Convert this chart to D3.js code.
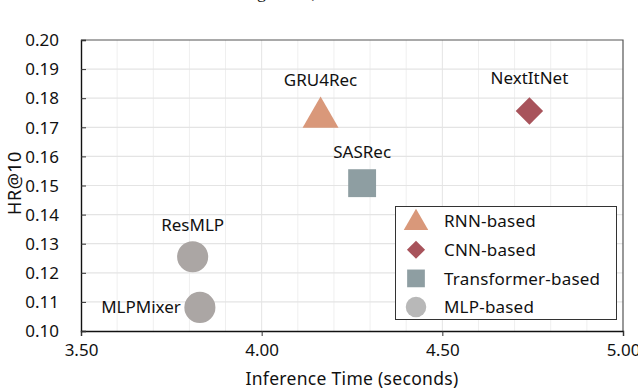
<!DOCTYPE html>
<html>
<head>
<meta charset="utf-8">
<script src="https://cdn.jsdelivr.net/npm/d3@7"></script>
<style>
  body { margin: 0; background: #fff; }
  text { font-family: "Noto Sans", sans-serif; fill: #111; }
</style>
</head>
<body>
<div id="canvas"></div>
<script>
"use strict"

/* values */
let models = ["GRU4Rec", "NextItNet", "SASRec", "ResMLP", "MLPMixer"];
let families = ["RNN-based", "CNN-based", "Transformer-based", "MLP-based", "MLP-based"];
let inferTime = [4.163, 4.741, 4.278, 3.809, 3.829];
let hr10 = [0.1748, 0.1756, 0.1508, 0.1255, 0.1081];

let legendNames = ["RNN-based", "CNN-based", "Transformer-based", "MLP-based"];
let xTicks = [3.5, 4.0, 4.5, 5.0];
let yTicks = [0.10, 0.11, 0.12, 0.13, 0.14, 0.15, 0.16, 0.17, 0.18, 0.19, 0.20];

let colours = {
    "RNN-based": "#d9987a",
    "CNN-based": "#a8535b",
    "Transformer-based": "#8e9ea2",
    "MLP-based": "#aba6a4"
};
let shapes = {
    "RNN-based": d3.symbolTriangle,
    "CNN-based": d3.symbolDiamond2,
    "Transformer-based": d3.symbolSquare2,
    "MLP-based": d3.symbolCircle
};

const W = 638, H = 390;
const pLeft = 81, pRight = 623, pTop = 40, pBottom = 331;

let drawing = d3.select("#canvas")
    .append("svg")
    .attr("width", W)
    .attr("height", H);

// caption line of the page above, only its descenders are in the crop
drawing.append("text")
    .attr("x", 242).attr("y", -1.8)
    .style("font-family", "'Liberation Serif', serif")
    .style("font-size", "18px")
    .text("Figure 10, the");

let x = d3.scaleLinear().domain([3.5, 5.0]).range([pLeft, pRight]);
let y = d3.scaleLinear().domain([0.10, 0.20]).range([pBottom, pTop]);

// grid
let grid = drawing.append("g");
grid.selectAll("line.v")
    .data(d3.range(36, 50).map(d => d / 10))
    .enter().append("line")
    .attr("x1", d => x(d)).attr("x2", d => x(d))
    .attr("y1", pTop).attr("y2", pBottom)
    .attr("stroke", d => Math.abs(d * 2 - Math.round(d * 2)) < 1e-6 ? "#e4e4e4" : "#efefef")
    .attr("stroke-width", 1);
grid.selectAll("line.h")
    .data(yTicks.slice(1, -1))
    .enter().append("line")
    .attr("x1", pLeft).attr("x2", pRight)
    .attr("y1", d => y(d)).attr("y2", d => y(d))
    .attr("stroke", "#e4e4e4")
    .attr("stroke-width", 1.2);

// frame: top and right
drawing.append("path")
    .attr("d", `M${pLeft},${pTop}H${pRight}V${pBottom}`)
    .attr("fill", "none")
    .attr("stroke", "#555")
    .attr("stroke-width", 1.2);

// axes
let xAxis = drawing.append("g")
    .attr("transform", `translate(0,${pBottom})`)
    .call(d3.axisBottom(x).tickValues(xTicks).tickFormat(d3.format(".2f")).tickSize(5).tickPadding(8));
let yAxis = drawing.append("g")
    .attr("transform", `translate(${pLeft},0)`)
    .call(d3.axisLeft(y).tickValues(yTicks).tickFormat(d3.format(".2f")).tickSize(-5).tickPadding(22));

[xAxis, yAxis].forEach(a => {
    a.select(".domain").attr("stroke", "#111").attr("stroke-width", 1.4);
    a.selectAll(".tick line").attr("stroke", "#333").attr("stroke-width", 1);
    a.selectAll(".tick text")
        .style("font-family", "'Noto Sans', sans-serif")
        .style("font-size", "17px")
        .attr("fill", "#111");
});
yAxis.selectAll(".tick text").attr("dy", "0.34em");

// axis titles
drawing.append("text")
    .attr("x", (pLeft + pRight) / 2).attr("y", 385)
    .attr("text-anchor", "middle")
    .style("font-size", "17.5px")
    .style("letter-spacing", "0.3px")
    .text("Inference Time (seconds)");
drawing.append("text")
    .attr("transform", "translate(21,183) rotate(-90)")
    .attr("text-anchor", "middle")
    .style("font-size", "18px")
    .style("letter-spacing", "0.5px")
    .text("HR@10");

// points
let symSize = { "RNN-based": 560, "CNN-based": 480, "Transformer-based": 990, "MLP-based": 760 };
drawing.selectAll("path.pt")
    .data(models)
    .enter().append("path")
    .attr("class", "pt")
    .attr("transform", (d, i) => {
        let dy = families[i] === "RNN-based" ? 4 : 0;
        return `translate(${x(inferTime[i])},${y(hr10[i]) + dy})`;
    })
    .attr("d", (d, i) => d3.symbol().type(shapes[families[i]]).size(symSize[families[i]])())
    .attr("fill", (d, i) => colours[families[i]]);

// point labels
let labelOff = {
    "GRU4Rec": [0, -27, "middle"],
    "NextItNet": [0, -27, "middle"],
    "SASRec": [0, -25, "middle"],
    "ResMLP": [0, -26, "middle"],
    "MLPMixer": [-19, 6, "end"]
};
drawing.selectAll("text.lbl")
    .data(models)
    .enter().append("text")
    .attr("class", "lbl")
    .attr("x", (d, i) => x(inferTime[i]) + labelOff[d][0])
    .attr("y", (d, i) => y(hr10[i]) + labelOff[d][1])
    .attr("text-anchor", d => labelOff[d][2])
    .style("font-size", "17px")
    .text(d => d);

// legend
let lg = drawing.append("g");
lg.append("rect")
    .attr("x", 395.5).attr("y", 206.5)
    .attr("width", 221).attr("height", 113)
    .attr("fill", "#fff")
    .attr("stroke", "#333")
    .attr("stroke-width", 1);
let legSize = { "RNN-based": 260, "CNN-based": 210, "Transformer-based": 400, "MLP-based": 330 };
let legCol = Object.assign({}, colours, { "MLP-based": "#b8b8b8" });
legendNames.forEach((n, i) => {
    let cy = 221 + i * 28.7;
    lg.append("path")
        .attr("transform", `translate(416,${cy + (i === 0 ? 2 : 0)})`)
        .attr("d", d3.symbol().type(shapes[n]).size(legSize[n])())
        .attr("fill", legCol[n]);
    lg.append("text")
        .attr("x", 444).attr("y", cy)
        .attr("dy", "0.36em")
        .style("font-size", "17px")
        .style("letter-spacing", "0.2px")
        .text(n);
});
</script>
</body>
</html>
